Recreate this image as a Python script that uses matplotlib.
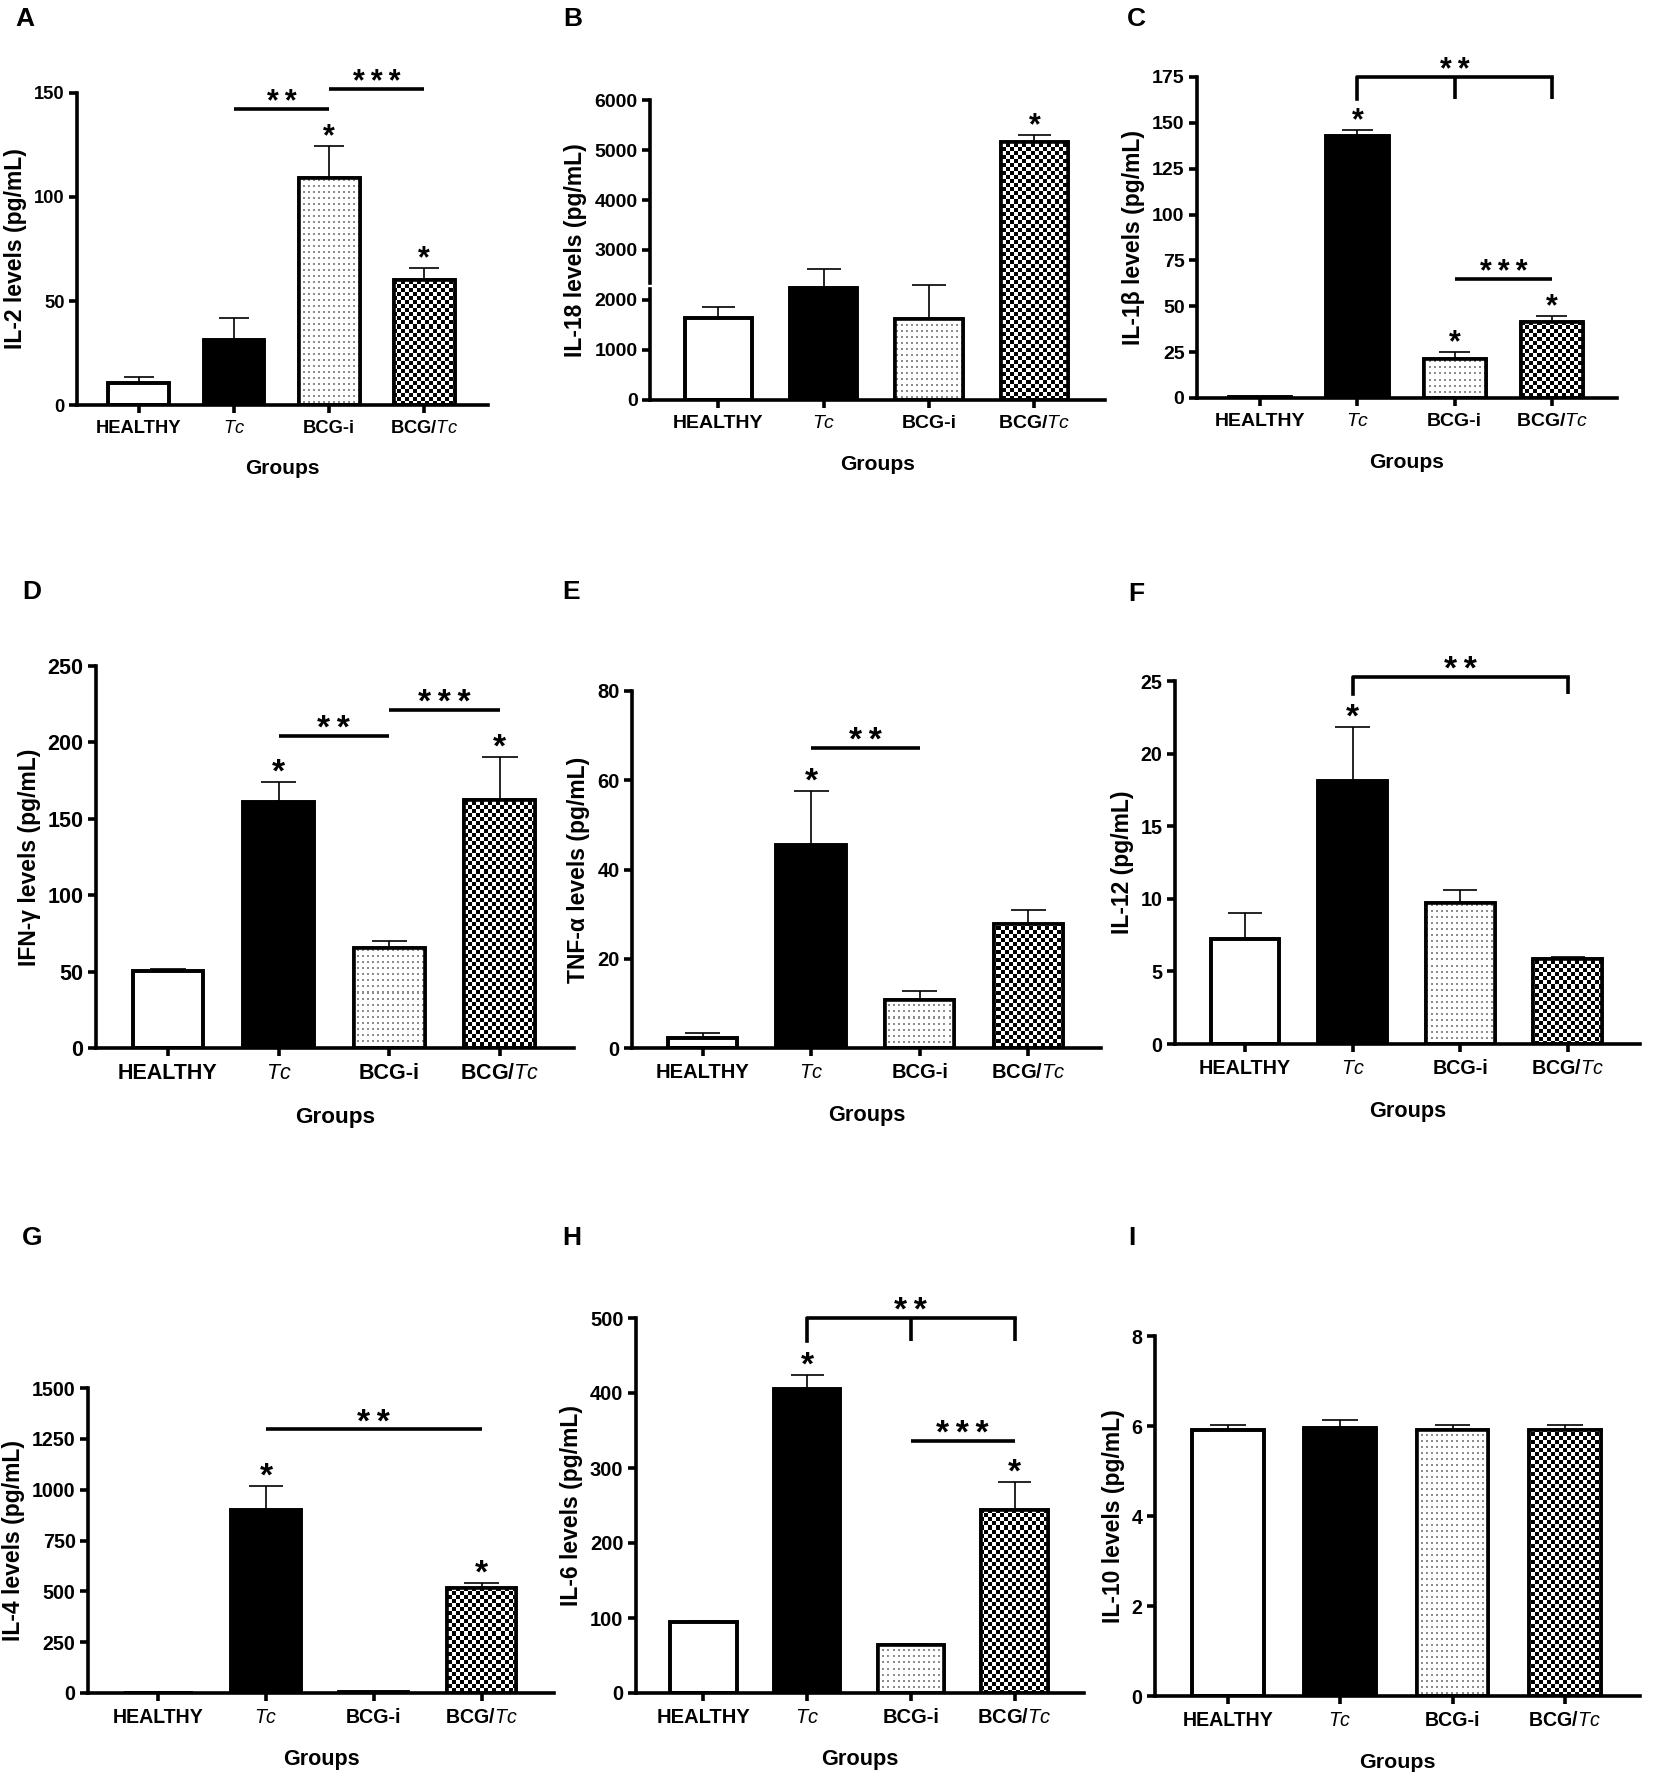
import numpy as np
import matplotlib
matplotlib.use("Agg")
import matplotlib.pyplot as plt

plt.rcParams['font.family'] = ['Liberation Sans', 'DejaVu Sans']
plt.rcParams['mathtext.fontset'] = 'custom'
plt.rcParams['mathtext.rm'] = 'Liberation Sans'
plt.rcParams['mathtext.it'] = 'Liberation Sans:italic'
plt.rcParams['mathtext.bf'] = 'Liberation Sans:bold'

groups = ['HEALTHY', r'$\mathit{Tc}$', 'BCG-i', r'$\mathbf{BCG/}\mathit{Tc}$']

# cytokine levels (pg/mL), mean and upper error
il2_mean = [10.4, 31.3, 109.0, 60.2]
il2_err = [3.2, 10.4, 15.7, 5.6]
il18_mean = [1633, 2247, 1620, 5167]
il18_err = [220, 366, 680, 140]
il1b_mean = [0.5, 142.6, 21.3, 41.4]
il1b_err = [0.0, 3.7, 3.8, 3.1]
ifng_mean = [50.4, 161.2, 65.5, 162.5]
ifng_err = [1.0, 12.7, 4.3, 28.1]
tnfa_mean = [2.3, 45.4, 10.8, 27.8]
tnfa_err = [1.0, 12.1, 1.9, 3.2]
il12_mean = [7.22, 18.1, 9.72, 5.87]
il12_err = [1.78, 3.7, 0.88, 0.13]
il4_mean = [0.0, 899, 5.0, 517]
il4_err = [0.0, 119, 0.0, 22]
il6_mean = [94.7, 405, 64.1, 244.6]
il6_err = [1.5, 18.6, 1.5, 37.0]
il10_mean = [5.91, 5.96, 5.91, 5.91]
il10_err = [0.12, 0.17, 0.12, 0.12]

# significance marks: star over bar, lines (i, j, y, label), brackets (i, legs, y, leg, label)
il2_star = [0, 0, 1, 1]
il2_lines = [(1, 2, 142.5, '**'), (2, 3, 152, '***')]
il18_star = [0, 0, 0, 1]
il1b_star = [0, 1, 1, 1]
il1b_lines = [(2, 3, 65, '***')]
il1b_brackets = [(1, [2, 3], 175, 12, '**')]
ifng_star = [0, 1, 0, 1]
ifng_lines = [(1, 2, 204, '**'), (2, 3, 221.4, '***')]
tnfa_star = [0, 1, 0, 0]
tnfa_lines = [(1, 2, 67.3, '**')]
il12_star = [0, 1, 0, 0]
il12_brackets = [(1, [3], 25.3, 1.2, '**')]
il4_star = [0, 1, 0, 1]
il4_lines = [(1, 3, 1296, '**')]
il6_star = [0, 1, 0, 1]
il6_lines = [(2, 3, 336, '***')]
il6_brackets = [(1, [2, 3], 500, 30.6, '**')]

W, H = 1654, 1778
fig = plt.figure(figsize=(W / 100, H / 100), dpi=100)

fills = ['white', 'black', 'dots', 'check']
LW = 2.6


def texture(kind, w, h):
    img = np.ones((h, w, 3))
    if kind == 'check':
        yy, xx = np.mgrid[0:h, 0:w]
        img[((xx // 4 + yy // 4) % 2) == 0] = 0.0
    else:
        for r in range(2, h, 6):
            for c in range(1, w, 5):
                img[r:r + 2, c:c + 2] = 0.55
    return img


def stars(lab):
    return '\u2009'.join(lab)


def panel(box, letter, mean, err, ylabel, yticks, star, lines=(), brackets=(),
          ts=13, xs=14.5, ss=22, broken=None):
    left, right, ytop, y0 = box
    pos = [left / W, 1 - y0 / H, (right - left) / W, (y0 - ytop) / H]
    ax = fig.add_axes(pos)
    x = np.arange(len(groups))

    tops = np.add(mean, err)
    ax.vlines(x, mean, tops, color='black', lw=1.2, zorder=1.5)
    for xi, t, e in zip(x, tops, err):
        if e > 0:
            ax.hlines(t, xi - 0.16, xi + 0.16, color='black', lw=1.2, zorder=1.5)

    bars = ax.bar(x, mean, width=0.64, color=['white', 'black', 'white', 'white'],
                  edgecolor='black', linewidth=LW, zorder=2)
    pw, ph = int(round(W * pos[2])), int(round(H * pos[3]))
    for b, f in zip(bars, fills):
        if f in ('dots', 'check'):
            im = ax.imshow(texture(f, pw, ph), extent=(0, 1, 0, 1), transform=ax.transAxes,
                           interpolation='nearest', aspect='auto', zorder=2.5)
            im.set_clip_path(b)
    ax.bar(x, mean, width=0.64, fill=False, edgecolor='black', linewidth=LW, zorder=3)
    ax.set_xlim(-0.65, 3.67)
    ax.set_ylim(0, yticks[-1])

    for xi, t, s in zip(x, tops, star):
        if s:
            ax.annotate('*', xy=(xi, t), xytext=(0, 0.5), textcoords='offset points',
                        ha='center', va='baseline', fontsize=ss, fontweight='bold')
    for i, j, y, lab in lines:
        ax.plot([i, j], [y, y], color='black', lw=LW, solid_capstyle='butt', clip_on=False)
        ax.annotate(stars(lab), xy=((i + j) / 2, y), xytext=(0, -1.5), textcoords='offset points',
                    ha='center', va='baseline', fontsize=ss, fontweight='bold', annotation_clip=False)
    for i, legs, y, leg, lab in brackets:
        j = max(legs)
        ax.plot([i, i, j], [y - leg, y, y], color='black', lw=LW, clip_on=False)
        for k in legs:
            ax.plot([k, k], [y, y - leg], color='black', lw=LW, solid_capstyle='butt', clip_on=False)
        ax.annotate(stars(lab), xy=((i + j) / 2, y), xytext=(0, -1.5), textcoords='offset points',
                    ha='center', va='baseline', fontsize=ss, fontweight='bold', annotation_clip=False)

    for s in ('top', 'right'):
        ax.spines[s].set_visible(False)
    for s in ('left', 'bottom'):
        ax.spines[s].set_linewidth(LW)
    if broken:
        ax.spines['left'].set_bounds(0, broken[0])
        ax.plot([0, 0], [broken[1], yticks[-1]], transform=ax.get_yaxis_transform(),
                color='black', lw=LW, solid_capstyle='projecting', clip_on=False)
    ax.set_yticks(yticks)
    ax.set_xticks(x, groups)
    ax.tick_params(axis='both', direction='out', length=6, width=LW, labelsize=ts)
    ax.tick_params(axis='x', pad=5)
    ax.tick_params(axis='y', pad=3)
    for lbl in ax.get_xticklabels() + ax.get_yticklabels():
        lbl.set_fontweight('bold')
    ax.set_ylabel(ylabel, fontsize=16.5, fontweight='bold', labelpad=5)
    ax.set_xlabel('Groups', fontsize=xs, fontweight='bold', labelpad=16)
    fig.text(letter[1] / W, 1 - (letter[2] - 5) / H, letter[0], fontsize=19,
             fontweight='bold', ha='left', va='top')
    return ax


panel((77, 488, 93, 405), ('A', 15, 12), il2_mean, il2_err, 'IL-2 levels (pg/mL)',
      [0, 50, 100, 150], il2_star, il2_lines, ts=13.2, xs=15, ss=22)
panel((650, 1105, 100, 400), ('B', 563, 12), il18_mean, il18_err, 'IL-18 levels (pg/mL)',
      list(range(0, 6001, 1000)), il18_star, ts=14, xs=15.2, ss=22, broken=(2220, 2340))
panel((1197, 1617, 77, 398), ('C', 1127, 12), il1b_mean, il1b_err, 'IL-1β levels (pg/mL)',
      list(range(0, 176, 25)), il1b_star, il1b_lines, il1b_brackets, ts=14, xs=15.2, ss=22)
panel((96, 574, 666, 1048), ('D', 22, 585), ifng_mean, ifng_err, 'IFN-γ levels (pg/mL)',
      list(range(0, 251, 50)), ifng_star, ifng_lines, ts=15.5, xs=16.2, ss=24)
panel((632, 1101, 691, 1048), ('E', 562, 585), tnfa_mean, tnfa_err, 'TNF-α levels (pg/mL)',
      [0, 20, 40, 60, 80], tnfa_star, tnfa_lines, ts=14.5, xs=15.7, ss=24)
panel((1175, 1640, 681, 1044), ('F', 1128, 587), il12_mean, il12_err, 'IL-12 (pg/mL)',
      [0, 5, 10, 15, 20, 25], il12_star, (), il12_brackets, ts=14.2, xs=15.6, ss=24)
panel((88, 554, 1388, 1693), ('G', 22, 1231), il4_mean, il4_err, 'IL-4 levels (pg/mL)',
      list(range(0, 1501, 250)), il4_star, il4_lines, ts=14.1, xs=15.5, ss=24)
panel((636, 1084, 1318, 1693), ('H', 562, 1231), il6_mean, il6_err, 'IL-6 levels (pg/mL)',
      list(range(0, 501, 100)), il6_star, il6_lines, il6_brackets, ts=14.5, xs=15.7, ss=24)
panel((1155, 1640, 1336, 1696), ('I', 1128, 1231), il10_mean, il10_err, 'IL-10 levels (pg/mL)',
      [0, 2, 4, 6, 8], [0, 0, 0, 0], ts=14.1, xs=15.4, ss=24)

fig.savefig('out.png', dpi=100, facecolor='white')
